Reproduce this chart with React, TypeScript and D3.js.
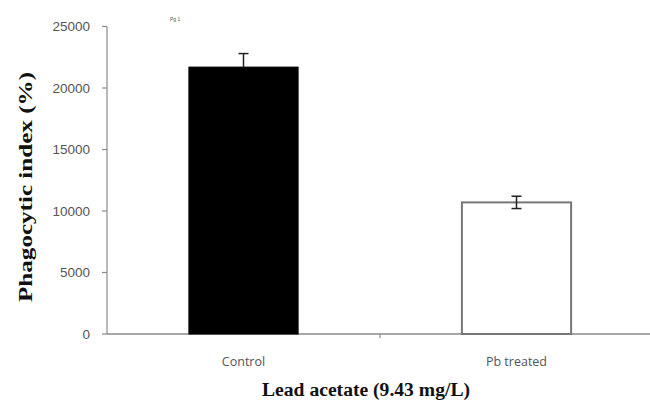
import React from "react";
import * as d3 from "d3";

const categories = ["Control", "Pb treated"];
const values = [21700, 10700];
const errorsUp = [1100, 500];
const errorsDown = [0, 500];
const fills = ["#000000", "#ffffff"];
const yTicks = [0, 5000, 10000, 15000, 20000, 25000];

export default function App() {
  const W = 650, H = 403;
  const x0 = 107, x1 = 653, yTop = 26.5, yBot = 334;
  const x = d3.scaleBand<string>().domain(categories).range([x0, x1]).paddingInner(0.6).paddingOuter(0.3);
  const xOuter = d3.scaleBand<string>().domain(categories).range([x0, x1]);
  const y = d3.scaleLinear().domain([0, 25000]).range([yBot, yTop]);
  const axisColor = "#8a8a8a";
  return (
    <svg width={W} height={H} style={{ position: "absolute", left: 0, top: 0, background: "#fff" }}>
      {/* y axis */}
      <line x1={x0} x2={x0} y1={yTop} y2={yBot} stroke={axisColor} strokeWidth={1.2} />
      {yTicks.map((t) => (
        <g key={t}>
          <line x1={x0 - 5} x2={x0} y1={y(t)} y2={y(t)} stroke={axisColor} strokeWidth={1.2} />
          <text x={90} y={y(t)} dy="0.35em" textAnchor="end" fontFamily="'Liberation Sans', Arial, sans-serif" fontSize={13.5} fill="#555">
            {t}
          </text>
        </g>
      ))}
      {/* x axis */}
      <line x1={x0} x2={W} y1={yBot} y2={yBot} stroke={axisColor} strokeWidth={1.5} />
      {categories.map((c) => (
        <line key={c} x1={(xOuter(c) as number) + xOuter.bandwidth()} x2={(xOuter(c) as number) + xOuter.bandwidth()} y1={yBot} y2={yBot + 4} stroke={axisColor} strokeWidth={1.2} />
      ))}
      {/* bars */}
      {categories.map((c, i) => (
        <rect key={c} x={x(c)} y={y(values[i])} width={x.bandwidth()} height={yBot - y(values[i])}
          fill={fills[i]} stroke={i === 0 ? "#000" : "#777"} strokeWidth={i === 0 ? 1 : 2} />
      ))}
      {/* error bars */}
      {categories.map((c, i) => {
        const cx = (x(c) as number) + x.bandwidth() / 2;
        const top = y(values[i] + errorsUp[i]);
        const bot = y(values[i] - errorsDown[i]);
        return (
          <g key={c} stroke="#222" strokeWidth={1.5}>
            <line x1={cx} x2={cx} y1={top} y2={bot} />
            <line x1={cx - 5} x2={cx + 5} y1={top} y2={top} />
            {errorsDown[i] > 0 && <line x1={cx - 5} x2={cx + 5} y1={bot} y2={bot} />}
          </g>
        );
      })}
      {/* category labels */}
      {categories.map((c) => (
        <text key={c} x={(x(c) as number) + x.bandwidth() / 2} y={366} textAnchor="middle"
          fontFamily="'Open Sans', 'Liberation Sans', sans-serif" fontSize={12.5} fill="#555">
          {c}
        </text>
      ))}
      <text x={170} y={21} fontFamily="'Liberation Sans', sans-serif" fontSize={5} fill="#555">Pg 1</text>
      <text x={366} y={396} textAnchor="middle" textLength={208} lengthAdjust="spacingAndGlyphs"
        fontFamily="'Liberation Serif', 'Times New Roman', serif" fontWeight="bold" fontSize={18} fill="#111">
        Lead acetate (9.43 mg/L)
      </text>
      <text transform="translate(32,187) rotate(-90)" textAnchor="middle" textLength={230} lengthAdjust="spacingAndGlyphs"
        fontFamily="'Liberation Serif', 'Times New Roman', serif" fontWeight="bold" fontSize={18} fill="#111">
        Phagocytic  index (%)
      </text>
    </svg>
  );
}
